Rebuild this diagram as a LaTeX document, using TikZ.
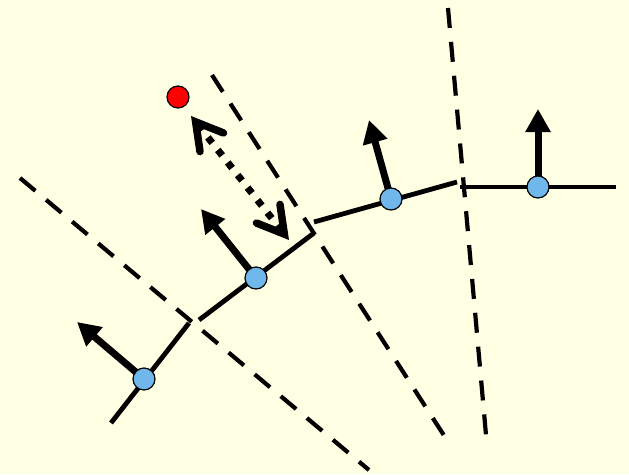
\documentclass[tikz,border=0pt]{standalone}
\usetikzlibrary{arrows.meta}
\definecolor{bg}{RGB}{255,255,228}
\definecolor{dotblue}{RGB}{112,184,236}
\begin{document}
\begin{tikzpicture}[x=1pt,y=-1pt,
  seg/.style={line width=4.8pt},
  cut/.style={line width=4.2pt,dash pattern=on 20pt off 14pt},
  normal/.style={line width=7pt,-{Triangle[length=23pt,width=24pt]}},
  site/.style={circle,draw=black,line width=1.2pt,fill=dotblue,minimum size=22pt,inner sep=0pt},
  target/.style={circle,draw=black,line width=1.2pt,fill=red,minimum size=22pt,inner sep=0pt},
  ray/.style={line width=7pt,dash pattern=on 7pt off 9pt,
    {Straight Barb[length=26pt,width=30pt,line width=7.5pt,line cap=round]}-{Straight Barb[length=26pt,width=30pt,line width=7.5pt,line cap=round]}}]
\fill[bg] (0,0) rectangle (629,474);
\useasboundingbox (0,0) rectangle (629,474);
% cut lines
\coordinate (d1a) at (20,178); \coordinate (d1b) at (369,470);
\coordinate (d2a) at (212,75); \coordinate (d2b) at (445,437);
\coordinate (d3a) at (448,8); \coordinate (d3b) at (486,435);
\draw[cut] (d1a) -- (d1b);
\draw[cut] (d2a) -- (d2b);
\draw[cut] (d3a) -- (d3b);
% segments
\coordinate (s1a) at (111,423); \coordinate (s1b) at (189,323);
\coordinate (s2a) at (199,320); \coordinate (s2b) at (314,233);
\coordinate (s3a) at (314,222); \coordinate (s3b) at (457,182);
\coordinate (s4a) at (460,187); \coordinate (s4b) at (616,187);
\draw[seg] (s1a) -- (s1b);
\draw[seg] (s2a) -- (s2b);
\draw[seg] (s3a) -- (s3b);
\draw[seg] (s4a) -- (s4b);
% normals
\coordinate (p1) at (144,379); \coordinate (t1) at (77,322);
\coordinate (p2) at (256,278); \coordinate (t2) at (201,209);
\coordinate (p3) at (391,199); \coordinate (t3) at (369,120);
\coordinate (p4) at (538,187); \coordinate (t4) at (538,109);
\draw[normal] (p1) -- (t1);
\draw[normal] (p2) -- (t2);
\draw[normal] (p3) -- (t3);
\draw[normal] (p4) -- (t4);
\node[site] (n1) at (p1) {};
\node[site] (n2) at (p2) {};
\node[site] (n3) at (p3) {};
\node[site] (n4) at (p4) {};
% target and ray
\node[target] (r) at (178,97) {};
\coordinate (ra) at (191,116); \coordinate (rb) at (289,240);
\draw[ray] (ra) -- (rb);
\end{tikzpicture}
\end{document}
